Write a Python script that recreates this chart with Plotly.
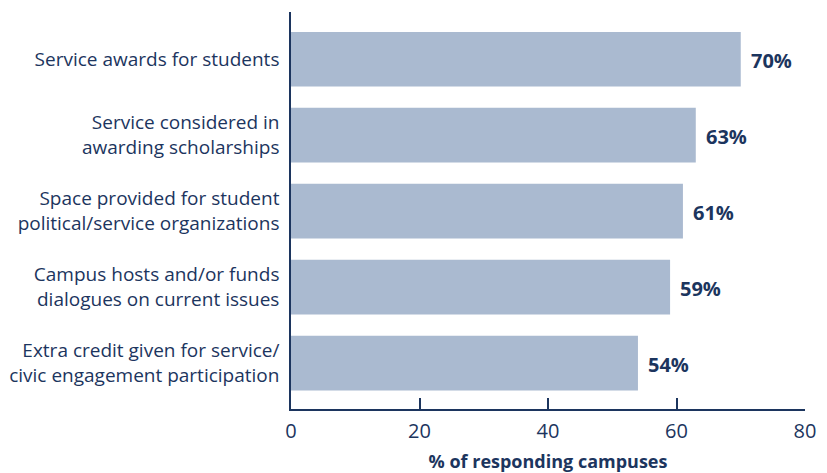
import plotly.graph_objects as go

categories = [
    "Service awards for students",
    "Service considered in<br>awarding scholarships",
    "Space provided for student<br>political/service organizations",
    "Campus hosts and/or funds<br>dialogues on current issues",
    "Extra credit given for service/<br>civic engagement participation",
]
values = [70, 63, 61, 59, 54]
x_ticks = [0, 20, 40, 60, 80]

navy = "#1c355e"
bar_color = "#aabad0"
font_family = "'Open Sans', Lato, sans-serif"

fig = go.Figure(
    go.Bar(
        x=values,
        y=categories,
        orientation="h",
        marker=dict(color=bar_color, line=dict(width=0)),
        width=0.72,
        hoverinfo="skip",
    )
)

# value labels beside each bar
for cat, val in zip(categories, values):
    fig.add_annotation(
        x=val, y=cat, text=f"<b>{val}%</b>", showarrow=False,
        xanchor="left", xshift=8, yshift=-1,
        font=dict(family=font_family, size=20, color=navy),
    )

fig.update_layout(
    width=827, height=473,
    margin=dict(l=291, r=22, t=12, b=64),
    plot_bgcolor="white", paper_bgcolor="white",
    showlegend=False,
    font=dict(family=font_family, color=navy),
    xaxis=dict(
        range=[0, 80], tickvals=x_ticks, ticks="inside", ticklen=11,
        tickcolor=navy, tickwidth=1.5, showline=True, linecolor=navy,
        linewidth=1.5, showgrid=False, zeroline=False, automargin=False,
        ticklabelstandoff=3,
        tickfont=dict(size=20, color=navy),
        title=dict(text="<b>% of responding campuses</b>",
                   font=dict(size=18, color=navy), standoff=27),
    ),
    yaxis=dict(
        autorange=False, range=[4.605, -0.622], showline=True,
        linecolor=navy, linewidth=1.5, showgrid=False, zeroline=False,
        ticks="", ticklabelstandoff=6, automargin=False,
        tickfont=dict(size=19, color=navy),
    ),
)

fig.write_html("out.html")
